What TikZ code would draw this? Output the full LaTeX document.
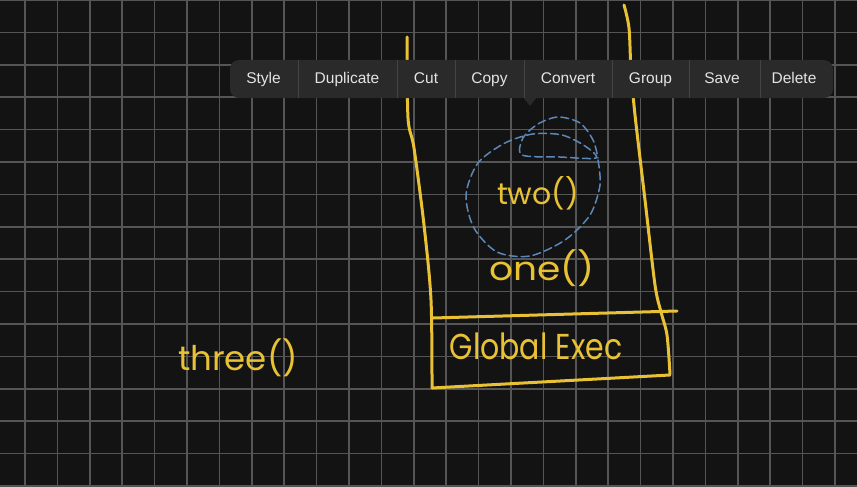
\documentclass[tikz,border=0pt]{standalone}
\usepackage{fontspec}
\setmainfont{Liberation Sans}
\newfontfamily\handfont{Poppins}
\usetikzlibrary{positioning}
\definecolor{board}{HTML}{131313}
\definecolor{gridgray}{HTML}{555555}
\definecolor{marker}{HTML}{E8C234}
\definecolor{lasso}{HTML}{5C88B8}
\definecolor{barfill}{HTML}{2A2A2A}
\definecolor{barsep}{HTML}{444444}
\definecolor{bartext}{HTML}{E4E4E4}
\tikzset{
  gridline/.style={draw=gridgray,line width=1.5pt},
  ink/.style={draw=marker,line width=3pt,line cap=round,line join=round},
  hand/.style={text=marker,font=\handfont\fontsize{30}{30}\selectfont,inner sep=0pt},
  selection/.style={draw=lasso,line width=1.5pt,dash pattern=on 8pt off 4pt,line cap=round},
  menuitem/.style={text=bartext,font=\fontsize{15.5}{18}\selectfont,inner sep=0pt,
    text height=11.5pt,text depth=3.5pt}
}

\begin{document}
\begin{tikzpicture}[x=1pt,y=-1pt]
\fill[board] (0,0) rectangle (857,487);
\useasboundingbox (0,0) rectangle (857,487);

% grid of the board
\foreach \i in {0,...,25}
  \draw[gridline] (25+32.4*\i,0) -- (25+32.4*\i,487);
\foreach \j in {0,...,15}
  \draw[gridline] (0,32.4*\j) -- (857,32.4*\j);

% call stack walls
\draw[ink] plot[smooth] coordinates {(407,37) (408,118) (414,148) (424,225) (431,300) (432,388)};
\draw[ink] plot[smooth] coordinates {(624,5) (629,28) (631,70) (635,115) (645,200) (655,285) (661,312) (667,335) (670,374)};
\draw[ink] (433,318) -- (677,311);
\draw[ink] (670,375) -- (432,388);

% lasso round two()
\draw[selection] plot[smooth] coordinates {(598,160) (600,185) (590,215) (565,240) (530,256) (497,252) (474,228) (466,195) (478,163) (505,143) (533,134) (562,135) (585,146) (596,158) (560,157) (522,155) (523,138) (538,124) (558,117) (580,123) (593,140) (598,158)};

% handwritten frames
\node[hand] (two) at (538,193) {two()};
\node[hand,xscale=1.25,yscale=1.1,transform shape] (one) at (542,268) {one()};
\node[hand,yscale=1.2,transform shape] (global) at (536,346) {Global Exec};
\node[hand,font=\handfont\fontsize{34}{34}\selectfont] (three) at (238,358) {three()};

% context menu
\fill[barfill,rounded corners=9pt] (230,60) rectangle (833,98);
\fill[barfill] (523,97) -- (530,106) -- (537,97) -- cycle;
\foreach \s in {298,397,455,524,612,689,760}
  \draw[barsep,line width=1pt] (\s,60) -- (\s,98);
\foreach \x/\lbl [count=\n] in {263.5/Style,347/Duplicate,426/Cut,489.5/Copy,568/Convert,650.5/Group,722/Save,794/Delete}
  \node[menuitem] (item\n) at (\x,79.5) {\lbl};
\end{tikzpicture}
\end{document}
